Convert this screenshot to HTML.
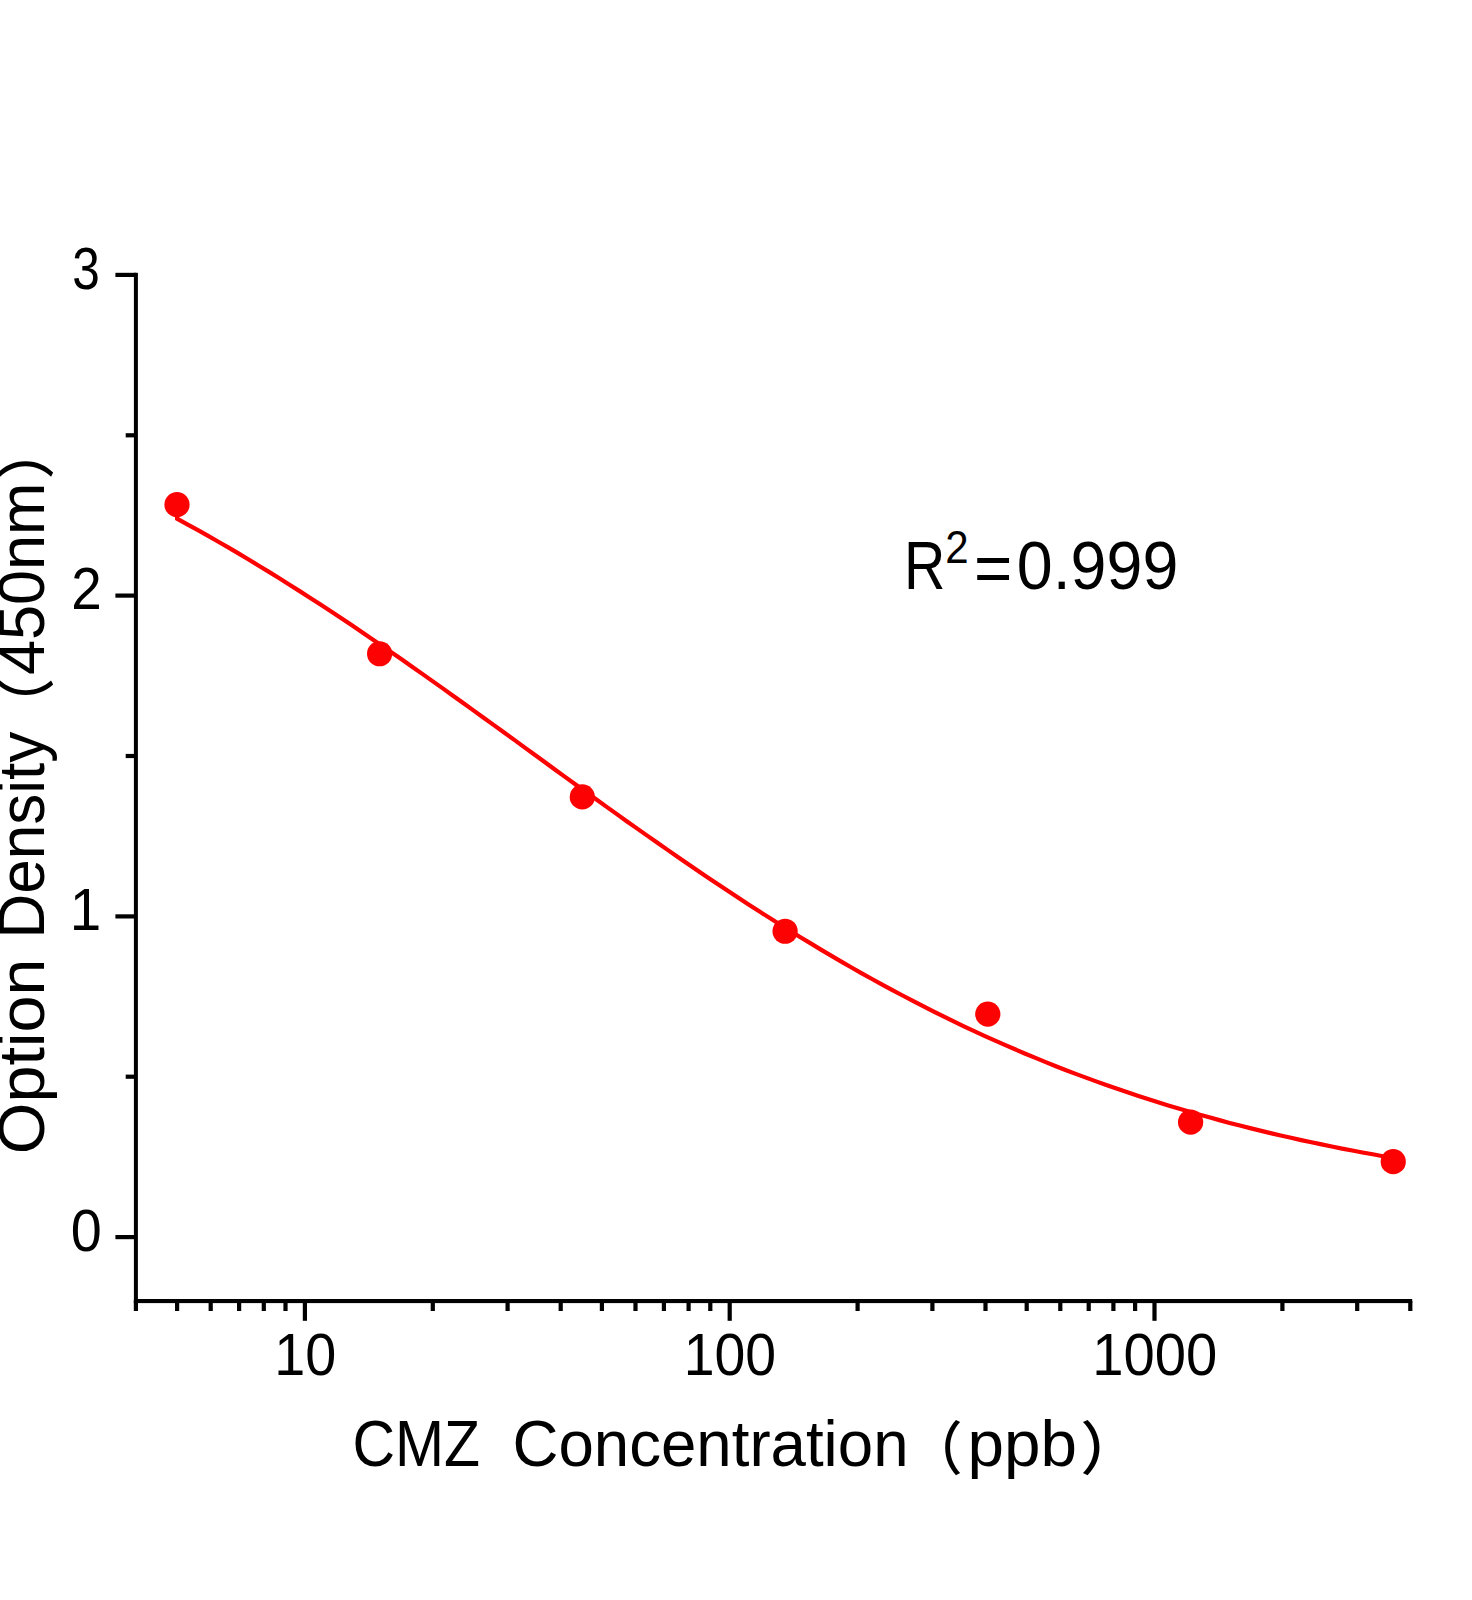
<!DOCTYPE html>
<html lang="en"><head><meta charset="utf-8"><title>CMZ standard curve</title>
<style>
html,body{margin:0;padding:0;background:#fff;}
body{width:1472px;height:1600px;overflow:hidden;}
svg{display:block;}
text{font-family:"Liberation Sans","Noto Sans CJK SC",sans-serif;fill:#000;}
.tk{font-size:59px;}
.ti{font-size:65px;}
.pr{font-size:57.7px;font-weight:500;}
.r2{font-size:68px;}
.sup{font-size:46.5px;}
</style></head>
<body>
<svg width="1472" height="1600" viewBox="0 0 1472 1600">
<rect width="1472" height="1600" fill="#fff"/>
<g fill="#000">
<rect x="133.9" y="272.8" width="4" height="1030.3"/>
<rect x="133.9" y="1299" width="1278.3" height="4.1"/>
<rect x="115.4" y="1235.0" width="20.6" height="4.2"/>
<rect x="115.4" y="914.3" width="20.6" height="4.2"/>
<rect x="115.4" y="593.5" width="20.6" height="4.2"/>
<rect x="115.4" y="272.8" width="20.6" height="4.2"/>
<rect x="125.7" y="1074.6" width="10" height="4.2"/>
<rect x="125.7" y="753.9" width="10" height="4.2"/>
<rect x="125.7" y="433.2" width="10" height="4.2"/>
<rect x="302.8" y="1301" width="4.2" height="19.8"/>
<rect x="727.6" y="1301" width="4.2" height="19.8"/>
<rect x="1152.4" y="1301" width="4.2" height="19.8"/>
<rect x="133.8" y="1301" width="4.2" height="10"/>
<rect x="175.0" y="1301" width="4.2" height="10"/>
<rect x="208.6" y="1301" width="4.2" height="10"/>
<rect x="237.0" y="1301" width="4.2" height="10"/>
<rect x="261.7" y="1301" width="4.2" height="10"/>
<rect x="283.4" y="1301" width="4.2" height="10"/>
<rect x="430.7" y="1301" width="4.2" height="10"/>
<rect x="505.5" y="1301" width="4.2" height="10"/>
<rect x="558.6" y="1301" width="4.2" height="10"/>
<rect x="599.8" y="1301" width="4.2" height="10"/>
<rect x="633.4" y="1301" width="4.2" height="10"/>
<rect x="661.8" y="1301" width="4.2" height="10"/>
<rect x="686.5" y="1301" width="4.2" height="10"/>
<rect x="708.2" y="1301" width="4.2" height="10"/>
<rect x="855.5" y="1301" width="4.2" height="10"/>
<rect x="930.3" y="1301" width="4.2" height="10"/>
<rect x="983.4" y="1301" width="4.2" height="10"/>
<rect x="1024.6" y="1301" width="4.2" height="10"/>
<rect x="1058.2" y="1301" width="4.2" height="10"/>
<rect x="1086.6" y="1301" width="4.2" height="10"/>
<rect x="1111.3" y="1301" width="4.2" height="10"/>
<rect x="1133.0" y="1301" width="4.2" height="10"/>
<rect x="1280.3" y="1301" width="4.2" height="10"/>
<rect x="1355.1" y="1301" width="4.2" height="10"/>
<rect x="1408.2" y="1301" width="4.2" height="10"/>
</g>
<path d="M177.0,513.5 L177.1,518.7 L187.3,524.3 L197.5,529.9 L207.7,535.7 L217.9,541.5 L228.2,547.4 L238.4,553.4 L248.6,559.5 L258.8,565.7 L269.0,571.9 L279.3,578.2 L289.5,584.7 L299.7,591.1 L309.9,597.7 L320.1,604.3 L330.4,611.0 L340.6,617.8 L350.8,624.6 L361.0,631.5 L371.2,638.4 L381.5,645.4 L391.7,652.4 L401.9,659.5 L412.1,666.7 L422.3,673.9 L432.5,681.1 L442.8,688.4 L453.0,695.7 L463.2,703.0 L473.4,710.4 L483.6,717.7 L493.9,725.1 L504.1,732.5 L514.3,739.9 L524.5,747.4 L534.7,754.8 L545.0,762.2 L555.2,769.7 L565.4,777.1 L575.6,784.5 L585.8,791.9 L596.1,799.2 L606.3,806.6 L616.5,813.9 L626.7,821.2 L636.9,828.4 L647.2,835.6 L657.4,842.8 L667.6,849.9 L677.8,857.0 L688.0,864.0 L698.2,871.0 L708.5,877.9 L718.7,884.8 L728.9,891.6 L739.1,898.3 L749.3,905.0 L759.6,911.6 L769.8,918.1 L780.0,924.6 L790.2,930.9 L800.4,937.2 L810.7,943.4 L820.9,949.6 L831.1,955.6 L841.3,961.6 L851.5,967.5 L861.8,973.3 L872.0,979.0 L882.2,984.6 L892.4,990.1 L902.6,995.5 L912.9,1000.9 L923.1,1006.2 L933.3,1011.3 L943.5,1016.4 L953.7,1021.4 L963.9,1026.3 L974.2,1031.1 L984.4,1035.8 L994.6,1040.4 L1004.8,1044.9 L1015.0,1049.3 L1025.3,1053.7 L1035.5,1057.9 L1045.7,1062.1 L1055.9,1066.2 L1066.1,1070.2 L1076.4,1074.1 L1086.6,1077.9 L1096.8,1081.6 L1107.0,1085.3 L1117.2,1088.8 L1127.5,1092.3 L1137.7,1095.7 L1147.9,1099.0 L1158.1,1102.3 L1168.3,1105.4 L1178.6,1108.5 L1188.8,1111.5 L1199.0,1114.5 L1209.2,1117.3 L1219.4,1120.1 L1229.6,1122.9 L1239.9,1125.5 L1250.1,1128.1 L1260.3,1130.6 L1270.5,1133.1 L1280.7,1135.5 L1291.0,1137.8 L1301.2,1140.1 L1311.4,1142.3 L1321.6,1144.4 L1331.8,1146.5 L1342.1,1148.6 L1352.3,1150.5 L1362.5,1152.5 L1372.7,1154.3 L1382.9,1156.2 L1393.2,1157.9" fill="none" stroke="#fd0202" stroke-width="4.2" stroke-linejoin="miter"/>
<g fill="#fd0202"><circle cx="177.0" cy="504.7" r="12.6"/><circle cx="379.6" cy="653.75" r="12.6"/><circle cx="582.3" cy="796.9" r="12.6"/><circle cx="785.1" cy="931.25" r="12.6"/><circle cx="987.8" cy="1014.2" r="12.6"/><circle cx="1190.6" cy="1122.2" r="12.6"/><circle cx="1393.25" cy="1161.7" r="12.6"/></g>
<g class="tk">
<text x="72.26" y="289.0" textLength="27.61" lengthAdjust="spacingAndGlyphs">3</text>
<text x="71.36" y="608.6" textLength="30.50" lengthAdjust="spacingAndGlyphs">2</text>
<text x="69.74" y="929.6" textLength="31.52" lengthAdjust="spacingAndGlyphs">1</text>
<text x="70.77" y="1250.7" textLength="31.03" lengthAdjust="spacingAndGlyphs">0</text>
<text x="274.25" y="1374.5" textLength="62.01" lengthAdjust="spacingAndGlyphs">10</text>
<text x="683.68" y="1374.5" textLength="92.39" lengthAdjust="spacingAndGlyphs">100</text>
<text x="1092.37" y="1374.5" textLength="124.99" lengthAdjust="spacingAndGlyphs">1000</text>
</g>
<text class="ti" y="1465.6"><tspan x="352.45" textLength="127.60" lengthAdjust="spacingAndGlyphs">CMZ</tspan> <tspan x="512.52" textLength="395.99" lengthAdjust="spacingAndGlyphs">Concentration</tspan><tspan x="908.03" textLength="54.63" lengthAdjust="spacingAndGlyphs" class="pr" dy="4.2">（</tspan><tspan x="967.51" textLength="109.41" lengthAdjust="spacingAndGlyphs" dy="-4.2">ppb</tspan><tspan x="1080.33" textLength="60.25" lengthAdjust="spacingAndGlyphs" class="pr" dy="4.2">）</tspan></text>
<text class="ti" transform="translate(44,0) rotate(-90)" y="0"><tspan x="-1154.16" textLength="195.62" lengthAdjust="spacingAndGlyphs">Option</tspan> <tspan x="-938.61" textLength="206.95" lengthAdjust="spacingAndGlyphs">Density</tspan><tspan x="-730.63" textLength="52.70" lengthAdjust="spacingAndGlyphs" class="pr" dy="4.2">（</tspan><tspan x="-675.05" textLength="192.57" lengthAdjust="spacingAndGlyphs" dy="-4.2">450nm</tspan><tspan x="-479.30" textLength="56.73" lengthAdjust="spacingAndGlyphs" class="pr" dy="4.2">）</tspan></text>
<text class="r2" y="588.7"><tspan x="904.07" textLength="41.36" lengthAdjust="spacingAndGlyphs">R</tspan><tspan x="945.37" textLength="23.38" lengthAdjust="spacingAndGlyphs" class="sup" dy="-26">2</tspan><tspan x="973.97" textLength="38.27" lengthAdjust="spacingAndGlyphs" dy="29">=</tspan><tspan x="1016.79" textLength="161.52" lengthAdjust="spacingAndGlyphs" dy="-3">0.999</tspan></text>
</svg>
</body></html>
